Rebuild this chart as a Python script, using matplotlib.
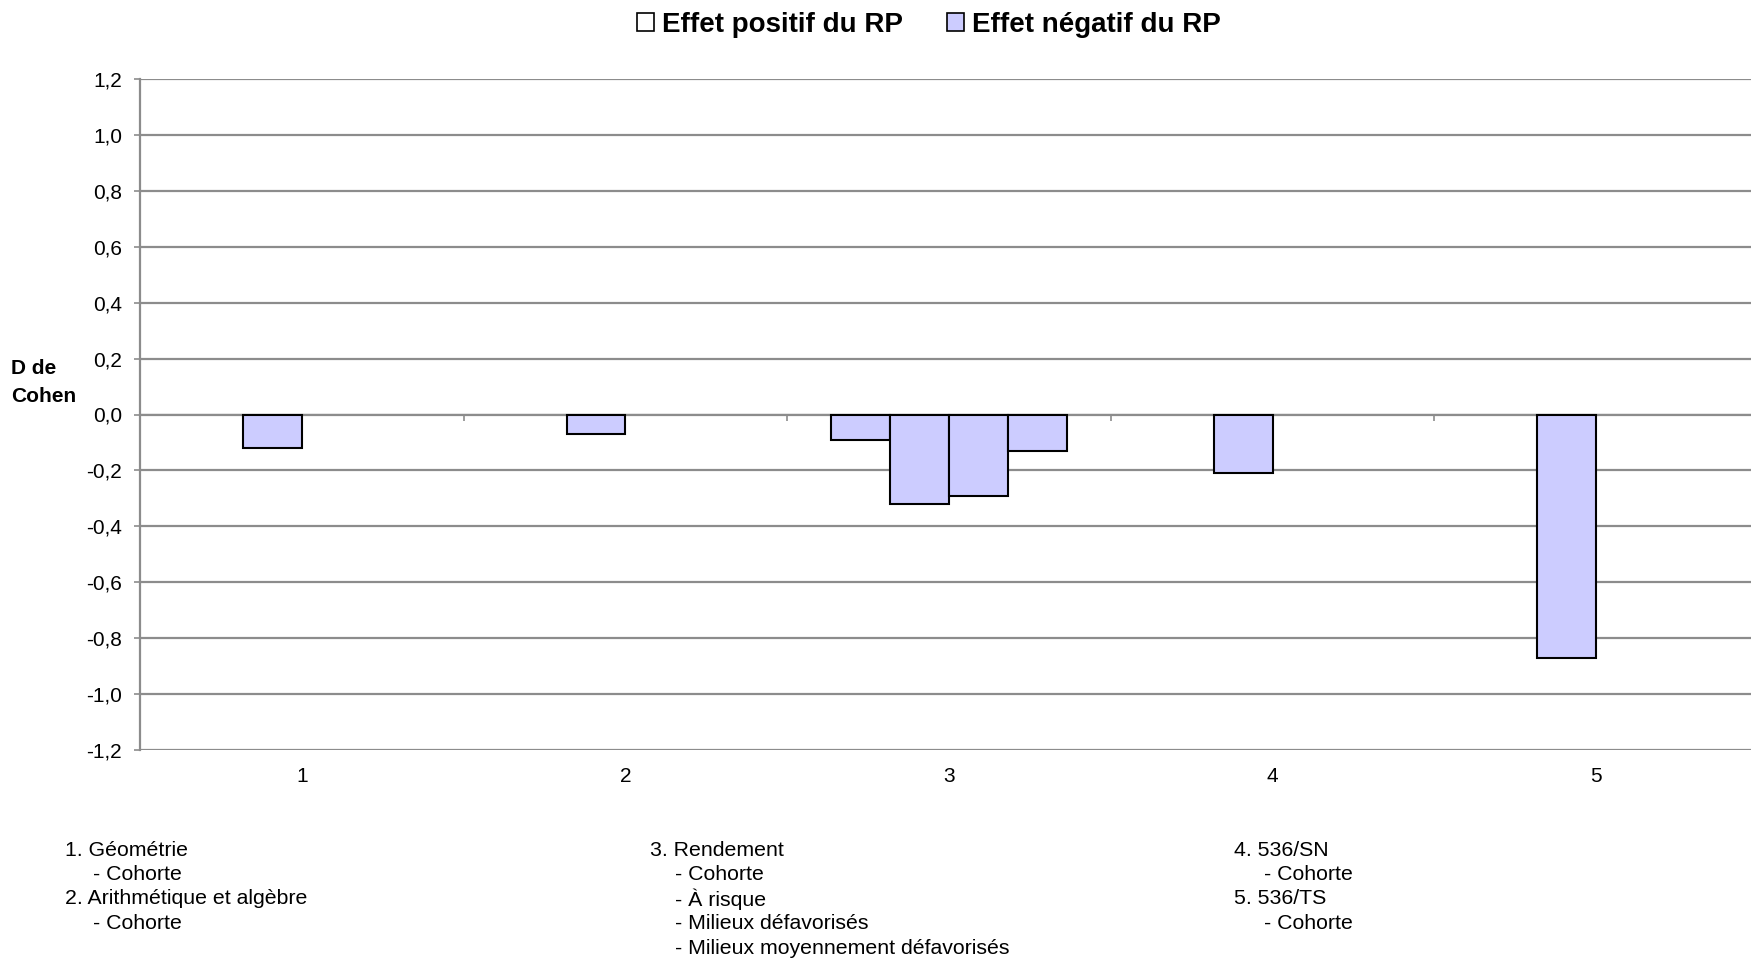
import matplotlib
matplotlib.use("Agg")
import matplotlib.pyplot as plt
from matplotlib.patches import Patch

plt.rcParams['font.family'] = ['Liberation Sans', 'DejaVu Sans']

# categories 1..5, each category has up to 4 bar slots (Excel clustered bars)
categories = ['1', '2', '3', '4', '5']
slot_values = [
    [None, -0.12, None, None],
    [None, -0.07, None, None],
    [-0.09, -0.32, -0.29, -0.13],
    [None, -0.21, None, None],
    [None, -0.87, None, None],
]
y_ticks = [-1.2, -1.0, -0.8, -0.6, -0.4, -0.2, 0.0, 0.2, 0.4, 0.6, 0.8, 1.0, 1.2]
y_ticklabels = ['-1,2', '-1,0', '-0,8', '-0,6', '-0,4', '-0,2', '0,0',
                '0,2', '0,4', '0,6', '0,8', '1,0', '1,2']
legend_labels = ['Effet positif du RP', 'Effet négatif du RP']
# (text, indented?)
notes = [
    [('1. Géométrie', 0), ('- Cohorte', 1), ('2. Arithmétique et algèbre', 0), ('- Cohorte', 1)],
    [('3. Rendement', 0), ('- Cohorte', 1), ('- À risque', 1), ('- Milieux défavorisés', 1),
     ('- Milieux moyennement défavorisés', 1)],
    [('4. 536/SN', 0), ('- Cohorte', 1), ('5. 536/TS', 0), ('- Cohorte', 1)],
]

W, H = 1751, 958
fig = plt.figure(figsize=(W / 100, H / 100), dpi=100)
ax = fig.add_axes([140 / W, 1 - 750 / H, (1758 - 140) / W, (750 - 79) / H])

grid_col = '#8c8c8c'
bar_col = '#ccccff'
bw = 1 / 5.5

for i, vals in enumerate(slot_values):
    for j, v in enumerate(vals):
        if v is None:
            continue
        x = i + (j - 2) * bw
        ax.bar(x, v, width=bw, align='edge', color=bar_col,
               edgecolor='black', linewidth=1.5, zorder=3)

ax.set_xlim(-0.5, len(categories) - 0.5)
ax.set_ylim(-1.2, 1.2)
ax.set_yticks(y_ticks)
ax.set_yticklabels(y_ticklabels, fontsize=15)
ax.yaxis.grid(True, color=grid_col, linewidth=1.6, zorder=0)
ax.tick_params(axis='y', length=4.5, width=1.2, color=grid_col, pad=8.5)

ax.set_xticks(range(len(categories)))
ax.set_xticklabels(categories, fontsize=15)
ax.tick_params(axis='x', length=0, pad=12)

for s in ['top', 'right', 'bottom']:
    ax.spines[s].set_visible(False)
ax.spines['left'].set_color(grid_col)
ax.spines['left'].set_linewidth(1.6)

# category axis line at zero with boundary tick marks
sec = ax.secondary_xaxis(0.5)
sec.set_xticks([k + 0.5 for k in range(len(categories) - 1)])
sec.set_xticklabels([])
sec.tick_params(axis='x', length=5, width=1.2, color=grid_col, direction='in')
sec.spines['bottom'].set_color(grid_col)
sec.spines['bottom'].set_linewidth(1.6)

fig.text(11 / W, 1 - 383 / H, 'D de\nCohen', fontsize=15, fontweight='bold',
         ha='left', va='center', linespacing=1.6)

handles = [Patch(facecolor='white', edgecolor='black', linewidth=1.2),
           Patch(facecolor=bar_col, edgecolor='black', linewidth=1.2)]
fig.legend(handles, legend_labels, loc='center', bbox_to_anchor=(929 / W, 1 - 25 / H),
           ncol=2, frameon=False, prop={'weight': 'bold', 'size': 20},
           handlelength=0.6, handleheight=0.6, handletextpad=0.3, columnspacing=1.6)

col_x = [65, 650, 1234]
col_indent = [28, 25, 30]
for cx, ind, lines in zip(col_x, col_indent, notes):
    for k, (line, sub) in enumerate(lines):
        fig.text((cx + sub * ind) / W, 1 - (850 + k * 24.5) / H, line, fontsize=15.3,
                 ha='left', va='center')

fig.savefig('out.png', dpi=100)
